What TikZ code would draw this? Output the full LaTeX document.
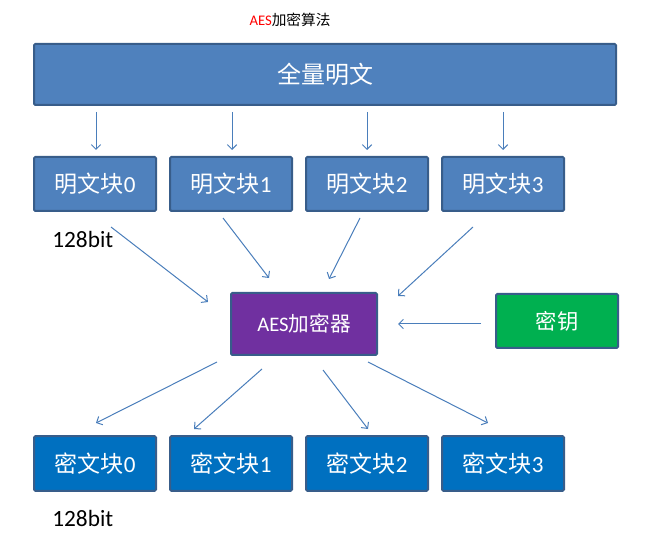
\documentclass[tikz,border=0pt]{standalone}
\usepackage{fontspec}
\setmainfont{Carlito}
\newfontfamily\cjk{Noto Sans CJK SC}
\usetikzlibrary{arrows.meta}
\definecolor{boxblue}{HTML}{4F81BD}
\definecolor{boxborder}{HTML}{385D8A}
\definecolor{cipherblue}{HTML}{0070C0}
\definecolor{aespurple}{HTML}{7030A0}
\definecolor{keygreen}{HTML}{00B050}
\definecolor{arrowblue}{HTML}{4A7EBB}
\definecolor{titlered}{HTML}{FF0000}
\begin{document}
\begin{tikzpicture}[x=0.75pt,y=-0.75pt,
  blockbox/.style={draw=boxborder,line width=1.5pt,rounded corners=1pt,text=white,
    inner sep=0pt,font=\fontsize{17.3pt}{19pt}\selectfont},
  plainbox/.style={blockbox,fill=boxblue,minimum width=91.5pt,minimum height=40.5pt},
  cipherbox/.style={blockbox,fill=cipherblue,minimum width=91.5pt,minimum height=41pt},
  conn/.style={draw=arrowblue,line width=0.75pt,-{Straight Barb[length=3.5pt,width=7pt]}},
  bitlabel/.style={anchor=west,inner sep=0pt,font=\fontsize{17.5pt}{19pt}\selectfont}
]
\useasboundingbox (0,0) rectangle (657,552);
% title
\node[font=\fontsize{11pt}{13pt}\selectfont] (title) at (290,20) {\textcolor{titlered}{AES}{\cjk 加密算法}};
% full plaintext
\node[blockbox,fill=boxblue,minimum width=436.5pt,minimum height=45.75pt,font=\fontsize{18pt}{20pt}\selectfont] (full) at (325,74.5) {\cjk 全量明文};
% plaintext blocks
\node[plainbox] (p0) at (95,184) {{\cjk 明文块}0};
\node[plainbox] (p1) at (231,184) {{\cjk 明文块}1};
\node[plainbox] (p2) at (367,184) {{\cjk 明文块}2};
\node[plainbox] (p3) at (503,184) {{\cjk 明文块}3};
\node[bitlabel] (b1) at (52,239) {128bit};
% AES and key
\node[blockbox,fill=aespurple,minimum width=109.5pt,minimum height=46.5pt,font=\fontsize{15.5pt}{17pt}\selectfont] (aes) at (304,324) {AES{\cjk 加密器}};
\node[blockbox,fill=keygreen,minimum width=91.5pt,minimum height=40.5pt,font=\fontsize{16pt}{18pt}\selectfont] (key) at (557,321) {\cjk 密钥};
% cipher blocks
\node[cipherbox] (c0) at (95,463.5) {{\cjk 密文块}0};
\node[cipherbox] (c1) at (231,463.5) {{\cjk 密文块}1};
\node[cipherbox] (c2) at (367,463.5) {{\cjk 密文块}2};
\node[cipherbox] (c3) at (503,463.5) {{\cjk 密文块}3};
\node[bitlabel] (b2) at (52,518) {128bit};
% coordinates
\coordinate (d0s) at (96,112);  \coordinate (d0e) at (96,150);
\coordinate (d1s) at (232,112); \coordinate (d1e) at (232,150);
\coordinate (d2s) at (367,112); \coordinate (d2e) at (367,150);
\coordinate (d3s) at (503,112); \coordinate (d3e) at (503,150);
\coordinate (i0s) at (111,227); \coordinate (i0e) at (208,302);
\coordinate (i1s) at (223,218); \coordinate (i1e) at (269,278);
\coordinate (i2s) at (360,218); \coordinate (i2e) at (329,279);
\coordinate (i3s) at (473,227); \coordinate (i3e) at (398,296);
\coordinate (ks) at (481,324);  \coordinate (ke) at (398,324);
\coordinate (o0s) at (217,362); \coordinate (o0e) at (96,423);
\coordinate (o1s) at (262,369); \coordinate (o1e) at (194,429);
\coordinate (o2s) at (323,370); \coordinate (o2e) at (368,429);
\coordinate (o3s) at (368,362); \coordinate (o3e) at (488,423);
% connectors
\foreach \a in {d0,d1,d2,d3,i0,i1,i2,i3,k,o0,o1,o2,o3}
  \draw[conn] (\a s) -- (\a e);
\end{tikzpicture}
\end{document}
